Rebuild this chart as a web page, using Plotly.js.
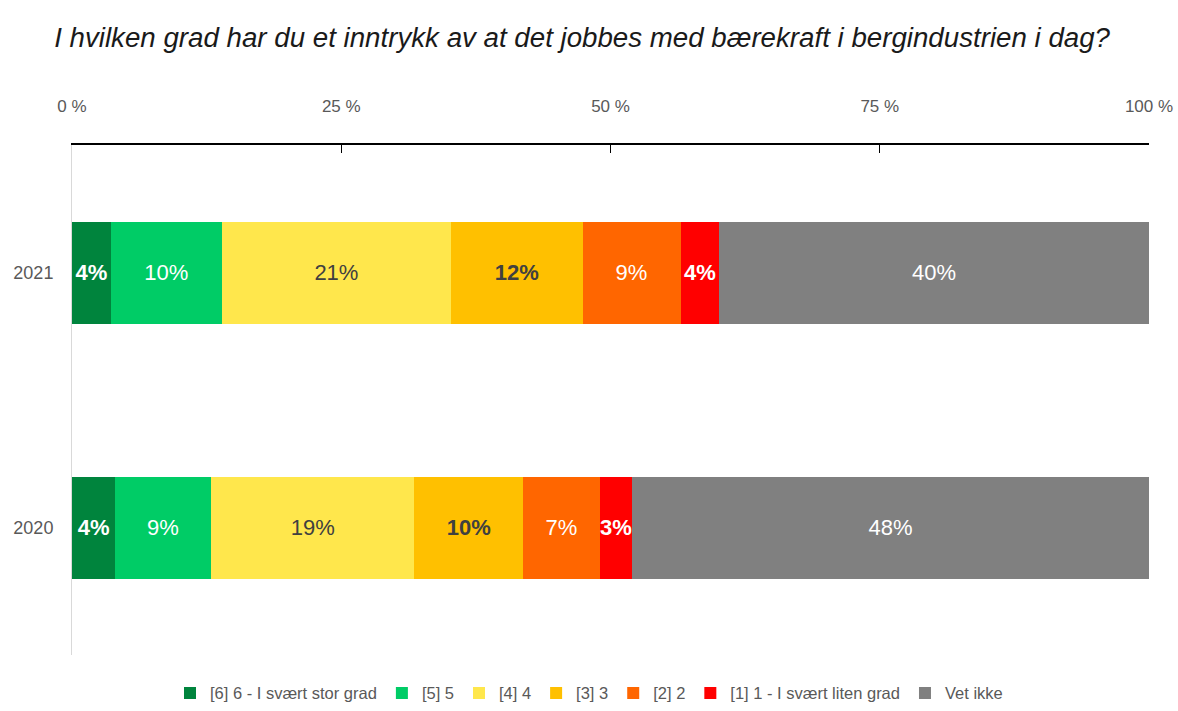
<!DOCTYPE html>
<html>
<head>
<meta charset="utf-8">
<script src="https://cdn.plot.ly/plotly-3.0.1.min.js"></script>
<style>html,body{margin:0;padding:0;background:#fff}#chart{width:1178px;height:711px}</style>
</head>
<body>
<div id="chart"></div>
<script>
const categories = ['2021', '2020'];
const seriesNames = ['[6] 6 - I svært stor grad', '[5] 5', '[4] 4', '[3] 3', '[2] 2', '[1] 1 - I svært liten grad', 'Vet ikke'];
const values2021 = [3.6, 10.3, 21.3, 12.2, 9.1, 3.6, 39.9];
const values2020 = [4.0, 8.9, 18.9, 10.1, 7.1, 3.0, 48.0];
const tickValues = [0, 25, 50, 75, 100];
const tickLabels = ['0 %', '25 %', '50 %', '75 %', '100 %'];

const colors = ['#00843D', '#00CC66', '#FFE74C', '#FFC000', '#FF6600', '#FF0000', '#808080'];
const textColors = ['#ffffff', '#ffffff', '#404040', '#404040', '#ffffff', '#ffffff', '#ffffff'];
const boldText = [true, false, false, true, false, true, false];
const FONT = '"Liberation Sans Narrow", "Arial Narrow", "Liberation Sans", Arial, sans-serif';

const traces = seriesNames.map((name, i) => ({
  type: 'bar',
  orientation: 'h',
  name: name,
  y: categories,
  x: [values2021[i], values2020[i]],
  marker: {color: colors[i], line: {width: 0}},
  texttemplate: boldText[i] ? '<b>%{x:.0f}%</b>' : '%{x:.0f}%',
  textposition: 'inside',
  insidetextanchor: 'middle',
  textangle: 0,
  constraintext: 'none',
  textfont: {family: FONT, size: 22, color: textColors[i]},
  hoverinfo: 'name+x'
}));

const layout = {
  width: 1178,
  height: 711,
  margin: {l: 72, r: 29, t: 145, b: 56, autoexpand: false},
  paper_bgcolor: '#ffffff',
  plot_bgcolor: '#ffffff',
  barmode: 'stack',
  bargap: 0.6,
  font: {family: FONT, color: '#595959'},
  title: {
    text: '<i>I hvilken grad har du et inntrykk av at det jobbes med bærekraft i bergindustrien i dag?</i>',
    font: {family: FONT, size: 27.7, color: '#1a1a1a'},
    x: 0.046, xanchor: 'left', xref: 'container',
    y: 0.947, yanchor: 'middle', yref: 'container'
  },
  xaxis: {
    side: 'top',
    range: [0, 100],
    tickvals: tickValues,
    ticktext: tickLabels,
    ticks: 'inside',
    ticklen: 8,
    tickcolor: '#000000',
    tickwidth: 1,
    showline: true,
    linecolor: '#000000',
    linewidth: 2,
    showgrid: false,
    zeroline: false,
    tickfont: {family: FONT, size: 17, color: '#595959'},
    ticklabelstandoff: 24,
    fixedrange: true
  },
  yaxis: {
    type: 'category',
    autorange: 'reversed',
    showline: true,
    linecolor: '#d9d9d9',
    linewidth: 1,
    ticks: '',
    showgrid: false,
    zeroline: false,
    tickfont: {family: FONT, size: 18, color: '#595959'},
    ticklabelstandoff: 14,
    fixedrange: true
  },
  showlegend: true,
  legend: {
    orientation: 'h',
    traceorder: 'normal',
    x: 0.5, xanchor: 'center', xref: 'container',
    y: 0.025, yanchor: 'middle', yref: 'container',
    font: {family: FONT, size: 16.5, color: '#595959'},
    itemwidth: 30,
    itemsizing: 'constant'
  }
};

Plotly.newPlot('chart', traces, layout, {displayModeBar: false});
</script>
</body>
</html>
